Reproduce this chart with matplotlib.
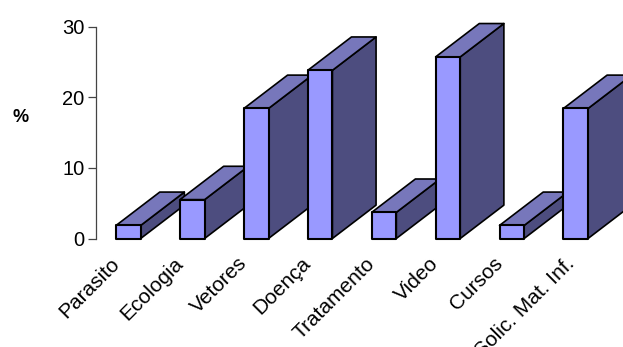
import matplotlib
matplotlib.use("Agg")
import matplotlib.pyplot as plt
from matplotlib.patches import Polygon
from matplotlib.transforms import ScaledTranslation

categorias = ["Parasito", "Ecologia", "Vetores", "Doença", "Tratamento", "Video", "Cursos", "Solic. Mat. Inf."]
valores = [1.85, 5.5, 18.4, 23.8, 3.7, 25.7, 1.85, 18.4]
ticks_y = [0, 10, 20, 30]

plt.rcParams['font.family'] = ['Liberation Sans', 'DejaVu Sans']

W, H = 623, 347
fig = plt.figure(figsize=(W/100, H/100), dpi=100)
# eixo em pixels: x de 96 a 607, y de 238.5 (0) a 26.5 (30)
ax = fig.add_axes([95.8/W, 1-238.5/H, (607.7-95.8)/W, 212/H])
ax.set_xlim(-0.51, 7.5)
ax.set_ylim(0, 30)

larg = 0.385  # largura da frente
dx = 0.683    # profundidade em x
dy = 4.72     # profundidade em y

for i, v in enumerate(valores):
    e = i - larg/2
    d = i + larg/2
    # lateral, topo e frente
    ax.add_patch(Polygon([(d, 0), (d+dx, dy), (d+dx, v+dy), (d, v)], fc='#4D4D7F', ec='black', lw=1.2, clip_on=False, joinstyle='round', zorder=3+i))
    ax.add_patch(Polygon([(e, v), (e+dx, v+dy), (d+dx, v+dy), (d, v)], fc='#7777BB', ec='black', lw=1.2, clip_on=False, joinstyle='round', zorder=3+i))
    ax.add_patch(Polygon([(e, 0), (d, 0), (d, v), (e, v)], fc='#9999FF', ec='black', lw=1.5, clip_on=False, joinstyle='round', zorder=3+i))

for s in ['top', 'right', 'bottom']:
    ax.spines[s].set_visible(False)
ax.spines['left'].set_color('#444444')
ax.spines['left'].set_linewidth(0.9)

ax.set_yticks(ticks_y)
ax.tick_params(axis='y', labelsize=14.5, length=5.5, width=0.9, color='#444444', pad=2.5, labelcolor='black')
ax.set_xticks(range(len(categorias)))
ax.set_xticklabels(categorias, rotation=45, ha='right', va='top', rotation_mode='anchor', fontsize=15)
ax.tick_params(axis='x', length=0, pad=11)

# desloca os rotulos para a esquerda (o ultimo um pouco menos)
for t in ax.get_xticklabels():
    px = -11 if t.get_text().startswith("Solic") else -19
    t.set_transform(t.get_transform() + ScaledTranslation(px/100, 0, fig.dpi_scale_trans))

fig.text(21/W, 1-118/H, "%", fontsize=13, fontweight='bold', ha='center', va='center')

fig.savefig("out.png", dpi=100)
